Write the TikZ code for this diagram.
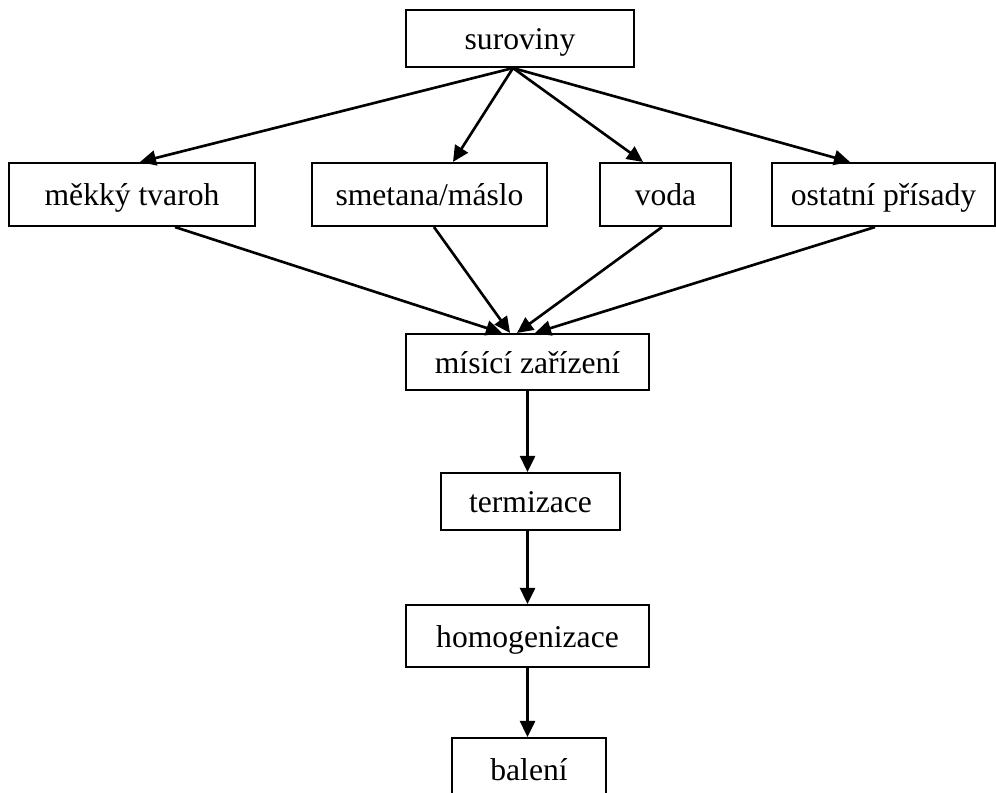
\documentclass[tikz,border=0pt]{standalone}
\usepackage{fontspec}
\setmainfont{Liberation Serif}
\usetikzlibrary{arrows.meta}

\tikzset{
    stage/.style={draw, line width=1.2pt, inner sep=0pt, text height=0.55cm, text depth=0.1cm, font=\fontsize{18}{22}\selectfont},
    flow/.style={line width=1.5pt, -{Triangle[length=0.32cm,width=0.3cm]}}
}

\begin{document}
\begin{tikzpicture}[x=0.02cm, y=-0.02cm]
    % Fix the page to the size of the picture
    \useasboundingbox (0,0) rectangle (996,792);

    % Define the stages of the process
    \node[stage, minimum width=4.56cm, minimum height=1.14cm] (suroviny) at (520,38.5) {suroviny};
    \node[stage, minimum width=4.92cm, minimum height=1.26cm] (tvaroh) at (132,194.5) {měkký tvaroh};
    \node[stage, minimum width=4.70cm, minimum height=1.26cm] (smetana) at (429.5,194.5) {smetana/máslo};
    \node[stage, minimum width=2.62cm, minimum height=1.26cm] (voda) at (665.5,194.5) {voda};
    \node[stage, minimum width=4.46cm, minimum height=1.26cm] (prisady) at (883.5,194.5) {ostatní přísady};
    \node[stage, minimum width=4.86cm, minimum height=1.12cm] (misic) at (527.5,362) {mísící zařízení};
    \node[stage, minimum width=3.58cm, minimum height=1.14cm] (termizace) at (530.5,501.5) {termizace};
    \node[stage, minimum width=4.86cm, minimum height=1.24cm] (homog) at (527.5,636) {homogenizace};
    \node[stage, minimum width=3.08cm, minimum height=1.24cm] (baleni) at (529,769) {balení};

    % Draw the arrows from the raw materials
    \draw[flow] ([xshift=-0.14cm]suroviny.south) -- ([xshift=0.16cm]tvaroh.north);
    \draw[flow] ([xshift=-0.14cm]suroviny.south) -- ([xshift=0.47cm]smetana.north);
    \draw[flow] ([xshift=-0.14cm]suroviny.south) -- ([xshift=-0.45cm]voda.north);
    \draw[flow] ([xshift=-0.14cm]suroviny.south) -- ([xshift=-0.67cm]prisady.north);

    % Draw the arrows into the mixer
    \draw[flow] ([xshift=0.86cm]tvaroh.south) -- ([xshift=-0.51cm]misic.north);
    \draw[flow] ([xshift=0.09cm]smetana.south) -- ([xshift=-0.35cm]misic.north);
    \draw[flow] ([xshift=-0.07cm]voda.south) -- ([xshift=-0.21cm]misic.north);
    \draw[flow] ([xshift=-0.17cm]prisady.south) -- ([xshift=0.15cm]misic.north);

    % Draw the arrows down the line
    \draw[flow] (misic.south) -- (misic.south |- termizace.north);
    \draw[flow] (misic.south |- termizace.south) -- (misic.south |- homog.north);
    \draw[flow] (homog.south) -- (homog.south |- baleni.north);
\end{tikzpicture}
\end{document}
